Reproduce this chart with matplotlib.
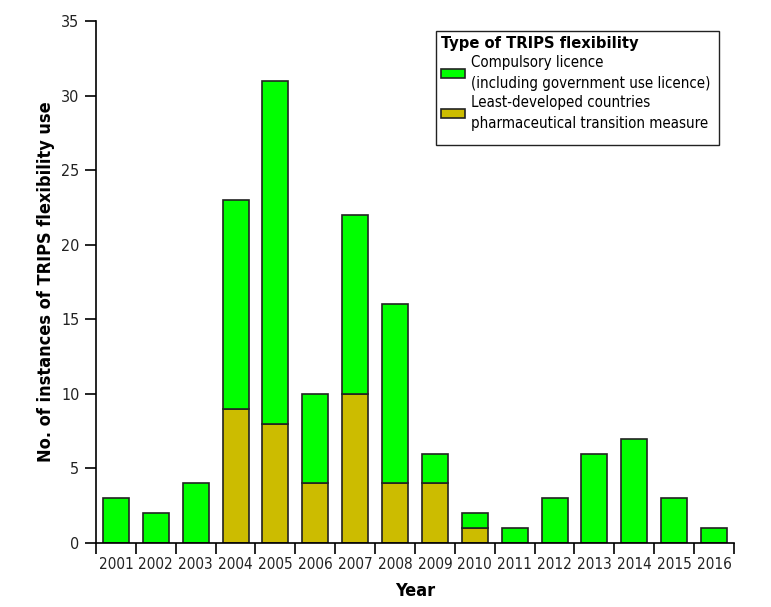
import matplotlib
matplotlib.use("Agg")
import matplotlib.pyplot as plt
from matplotlib.patches import Patch, Rectangle
from matplotlib.transforms import IdentityTransform
from matplotlib import font_manager

ttfs = font_manager.fontManager.ttflist
names = {f.name for f in ttfs}
cond_dejavu = any(f.name == 'DejaVu Sans' and 'ondensed' in f.fname for f in ttfs)
if 'Liberation Sans Narrow' in names:
    fam, stretch = ['Liberation Sans Narrow', 'DejaVu Sans'], 'normal'
elif cond_dejavu:
    fam, stretch = ['DejaVu Sans'], 'condensed'
else:
    fam, stretch = ['Roboto', 'DejaVu Sans'], 'normal'
plt.rcParams['font.family'] = fam
plt.rcParams['font.stretch'] = stretch

years = ['2001', '2002', '2003', '2004', '2005', '2006', '2007', '2008',
         '2009', '2010', '2011', '2012', '2013', '2014', '2015', '2016']
ldc = [0, 0, 0, 9, 8, 4, 10, 4, 4, 1, 0, 0, 0, 0, 0, 0]
compulsory = [3, 2, 4, 14, 23, 6, 12, 12, 2, 1, 1, 3, 6, 7, 3, 1]

green = '#00FF00'
olive = '#CCBC00'
edge = '#222222'

fig = plt.figure(figsize=(7.71, 6.07), dpi=100)
ax = fig.add_axes([0.1245, 0.1054, 0.8275, 0.86])

x = list(range(len(years)))
w = 0.65
ax.bar(x, ldc, width=w, color=olive, edgecolor=edge, linewidth=1.2)
ax.bar(x, compulsory, width=w, bottom=ldc, color=green, edgecolor=edge, linewidth=1.2)

ax.set_xlim(-0.5, len(years) - 0.5)
ax.set_ylim(0, 35)
ax.set_yticks(range(0, 36, 5))
ax.set_xticks(x)
ax.set_xticklabels(years)
ax.set_xticks([i - 0.5 for i in range(len(years) + 1)], minor=True)
ax.tick_params(axis='x', which='major', length=0, pad=10, labelsize=11, labelcolor='#222222')
ax.tick_params(axis='x', which='minor', length=8, width=1.2, direction='out')
ax.tick_params(axis='y', length=8, width=1.2, direction='out', labelsize=11.5, pad=4, labelcolor='#222222')

for s in ['top', 'right']:
    ax.spines[s].set_visible(False)
for s in ['left', 'bottom']:
    ax.spines[s].set_linewidth(1.2)

ax.set_xlabel('Year', fontsize=13, fontweight='bold', labelpad=7)
ax.set_ylabel('No. of instances of TRIPS flexibility use', fontsize=13, fontweight='bold', labelpad=4)

handles = [Patch(facecolor=green, edgecolor=edge, linewidth=1.2),
           Patch(facecolor=olive, edgecolor=edge, linewidth=1.2)]
labels = ['Compulsory licence\n(including government use licence)',
          'Least-developed countries\npharmaceutical transition measure']
leg = ax.legend(handles, labels, title='Type of TRIPS flexibility',
                loc='upper right', bbox_to_anchor=(0.971, 0.981), borderaxespad=0,
                fontsize=10.8, title_fontproperties={'weight': 'bold', 'size': 11.8},
                frameon=False,
                handlelength=1.6, handleheight=0.55, handletextpad=0.35,
                labelspacing=0.25, borderpad=0.35, alignment='left')
for t in leg.get_texts():
    t.set_linespacing(1.5)
leg.set_zorder(6)

fig.canvas.draw()
bb = leg.get_window_extent(fig.canvas.get_renderer())
extra_bottom = 9
frame = Rectangle((bb.x0, bb.y0 - extra_bottom), bb.width + 4, bb.height + extra_bottom,
                  transform=IdentityTransform(), facecolor='white', edgecolor=edge,
                  linewidth=1.0, zorder=5, clip_on=False)
ax.add_artist(frame)

fig.savefig('out.png', dpi=100)
